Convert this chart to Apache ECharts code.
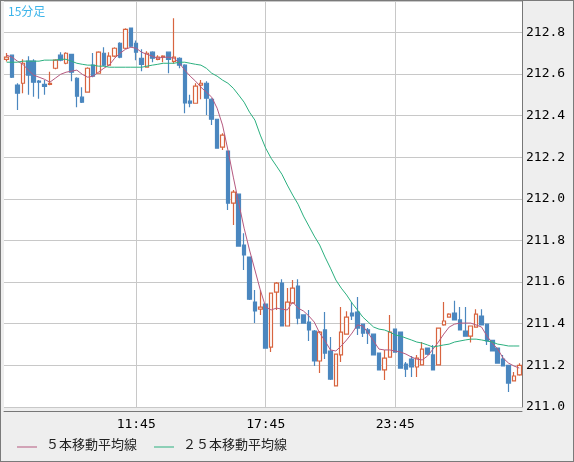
<!DOCTYPE html>
<html>
<head>
<meta charset="utf-8">
<script src="https://cdn.jsdelivr.net/npm/echarts@6/dist/echarts.min.js"></script>
<style>
html, body { margin: 0; padding: 0; background: #eeeeee; }
#chart { width: 572px; height: 460px; border: 1px solid #7a7a7a; }
</style>
</head>
<body>
<div id="chart"></div>
<script>
// 15-minute candles, 05:45 .. 05:30 next day
var opens = [212.67,212.69,212.546,212.555,212.661,212.661,212.565,212.55,212.55,212.627,
  212.69,212.651,212.694,212.579,212.488,212.512,212.642,212.603,212.699,212.642,
  212.685,212.747,212.723,212.82,212.747,212.675,212.632,212.704,212.67,212.68,
  212.704,212.66,212.675,212.642,212.469,212.459,212.546,212.555,212.478,212.382,
  212.248,212.229,211.979,212.022,211.778,211.72,211.504,211.47,211.494,211.288,
  211.552,211.595,211.389,211.499,211.581,211.442,211.408,211.365,211.221,211.37,
  211.269,211.101,211.25,211.35,211.451,211.456,211.398,211.37,211.35,211.259,
  211.178,211.24,211.374,211.36,211.206,211.23,211.192,211.202,211.283,211.25,
  211.202,211.394,211.432,211.451,211.418,211.365,211.34,211.384,211.437,211.398,
  211.32,211.283,211.23,211.2,211.125,211.154];
var closes = [212.68,212.584,212.507,212.651,212.594,212.56,212.56,212.54,212.555,212.666,
  212.666,212.699,212.608,212.493,212.464,212.627,212.589,212.704,212.642,212.685,
  212.723,212.68,212.814,212.733,212.704,212.646,212.699,212.675,212.68,212.685,
  212.67,212.68,212.642,212.46,212.459,212.541,212.555,212.483,212.382,212.243,
  212.306,211.979,212.032,211.773,211.73,211.518,211.461,211.48,211.283,211.547,
  211.595,211.389,211.504,211.571,211.427,211.403,211.37,211.221,211.36,211.259,
  211.134,211.254,211.36,211.432,211.437,211.379,211.355,211.355,211.25,211.178,
  211.235,211.36,211.264,211.187,211.182,211.192,211.235,211.278,211.254,211.178,
  211.379,211.413,211.446,211.418,211.37,211.34,211.389,211.446,211.394,211.317,
  211.269,211.211,211.197,211.115,211.149,211.2];
var lows = [212.66,212.58,212.426,212.507,212.50,212.49,212.48,212.50,212.545,212.622,
  212.661,212.646,212.565,212.44,212.46,212.512,212.584,212.603,212.637,212.64,
  212.68,212.675,212.72,212.728,212.666,212.613,212.63,212.656,212.666,212.656,
  212.603,212.65,212.627,212.411,212.44,212.459,212.478,212.402,212.354,212.243,
  212.234,211.946,211.874,211.773,211.658,211.514,211.403,211.442,211.283,211.264,
  211.466,211.389,211.389,211.499,211.398,211.40,211.317,211.197,211.163,211.23,
  211.13,211.10,211.216,211.35,211.418,211.346,211.336,211.302,211.25,211.178,
  211.13,211.24,211.264,211.187,211.144,211.144,211.144,211.202,211.25,211.178,
  211.202,211.39,211.43,211.418,211.37,211.34,211.31,211.384,211.394,211.298,
  211.269,211.211,211.197,211.072,211.125,211.15];
var highs = [212.70,212.69,212.555,212.67,212.685,212.67,212.57,212.57,212.61,212.67,
  212.704,212.704,212.694,212.584,212.536,212.632,212.70,212.709,212.728,212.704,
  212.728,212.752,212.819,212.82,212.76,212.718,212.709,212.709,212.69,212.69,
  212.704,212.867,212.68,212.646,212.50,212.555,212.57,212.565,212.483,212.382,
  212.315,212.229,212.042,212.022,211.835,211.72,211.562,211.562,211.494,211.547,
  211.60,211.614,211.571,211.61,211.614,211.442,211.466,211.37,211.365,211.456,
  211.336,211.254,211.48,211.46,211.504,211.528,211.398,211.38,211.35,211.259,
  211.274,211.442,211.374,211.36,211.216,211.245,211.25,211.312,211.283,211.298,
  211.379,211.504,211.45,211.51,211.48,211.48,211.389,211.47,211.47,211.398,
  211.32,211.283,211.25,211.2,211.168,211.21];

// moving averages as drawn
var ma5 = [212.690,212.680,212.661,212.646,212.618,212.594,212.584,212.574,212.560,212.579,
  212.598,212.608,212.613,212.618,212.598,212.584,212.589,212.608,212.627,212.642,
  212.675,212.699,212.718,212.728,212.723,212.704,212.694,212.685,212.675,212.680,
  212.680,212.675,212.651,212.618,212.589,212.565,212.536,212.512,212.488,212.435,
  212.354,212.234,212.104,211.979,211.859,211.754,211.658,211.562,211.480,211.466,
  211.475,211.470,211.466,211.504,211.475,211.461,211.437,211.408,211.355,211.317,
  211.274,211.269,211.293,211.322,211.355,211.394,211.389,211.355,211.317,211.278,
  211.274,211.274,211.269,211.264,211.254,211.240,211.230,211.226,211.245,211.278,
  211.312,211.350,211.384,211.398,211.403,211.403,211.403,211.394,211.384,211.341,
  211.307,211.278,211.235,211.211,211.197,211.187];
var ma25 = [212.656,212.656,212.656,212.661,212.661,212.661,212.661,212.666,212.666,212.666,
  212.670,212.670,212.661,212.651,212.646,212.642,212.642,212.637,212.637,212.632,
  212.632,212.632,212.632,212.632,212.632,212.632,212.637,212.642,212.646,212.651,
  212.651,212.651,212.656,212.656,212.651,212.646,212.642,212.627,212.603,212.589,
  212.570,212.555,212.531,212.498,212.464,212.416,212.378,212.306,212.243,212.195,
  212.157,212.118,212.066,212.018,211.974,211.917,211.869,211.821,211.778,211.720,
  211.667,211.610,211.571,211.538,211.499,211.466,211.432,211.408,211.384,211.374,
  211.370,211.360,211.346,211.341,211.331,211.322,211.312,211.307,211.298,211.288,
  211.293,211.298,211.302,211.312,211.317,211.322,211.326,211.326,211.322,211.317,
  211.312,211.302,211.298,211.293,211.293,211.293];

var timeLabels = ['11:45', '17:45', '23:45'];

var times = [];
for (var i = 0; i < opens.length; i++) {
    var m = (5 * 60 + 45 + i * 15) % (24 * 60);
    var hh = Math.floor(m / 60), mm = m % 60;
    times.push(hh + ':' + (mm < 10 ? '0' : '') + mm);
}
var candles = opens.map(function (o, i) {
    return [o, closes[i], Math.min(lows[i], o, closes[i]), Math.max(highs[i], o, closes[i])];
});

var myChart = echarts.init(document.getElementById('chart'));
var gridColor = '#c8c8c8';
var font = 'DejaVu Sans Mono';
var legendFont = '13px "Noto Sans CJK JP"';

myChart.setOption({
    animation: false,
    backgroundColor: '#eeeeee',
    grid: { left: 3, right: 51, top: 0, bottom: 54, show: true, backgroundColor: '#fff', borderWidth: 0 },
    xAxis: {
        type: 'category', data: times, boundaryGap: true, offset: 4,
        axisLine: { lineStyle: { color: '#777', width: 1 } },
        axisTick: { show: false },
        splitLine: { show: false },
        axisLabel: {
            interval: function (idx, v) { return timeLabels.indexOf(v) >= 0; },
            color: '#000', fontFamily: font, fontSize: 13, margin: 7
        }
    },
    yAxis: {
        type: 'value', position: 'right', min: 211, max: 212.95, interval: 0.2,
        axisLine: { show: true, lineStyle: { color: '#777' } },
        axisTick: { show: false },
        splitLine: { lineStyle: { color: gridColor } },
        axisLabel: {
            showMaxLabel: false, color: '#000', fontFamily: font, fontSize: 13, margin: 4,
            formatter: function (v) { return v.toFixed(1); }
        }
    },
    series: [{
        type: 'candlestick', data: candles, barWidth: 4,
        itemStyle: { color: '#fff', color0: '#4b87bf', borderColor: '#d8643f', borderColor0: '#4b87bf', borderWidth: 1.2 },
        markLine: {
            silent: true, symbol: 'none', label: { show: false },
            lineStyle: { color: gridColor, type: 'solid', width: 1 },
            data: timeLabels.map(function (t) { return { xAxis: t }; }),
            z: 0
        },
        z: 3
    }, {
        type: 'line', data: ma5, showSymbol: false,
        lineStyle: { color: '#b5597f', width: 1 }, z: 4
    }, {
        type: 'line', data: ma25, showSymbol: false,
        lineStyle: { color: '#2bb07f', width: 1 }, z: 4
    }],
    graphic: [
        { type: 'text', left: 7, top: 4, style: { text: '15分足', fill: '#3cb4ea', font: '12px "Noto Sans CJK JP"' } },
        { type: 'line', shape: { x1: 16, y1: 446, x2: 36, y2: 446 }, style: { stroke: '#b5597f', lineWidth: 1 } },
        { type: 'text', left: 45, top: 437, style: { text: '５本移動平均線', fill: '#222', font: legendFont } },
        { type: 'line', shape: { x1: 153, y1: 446, x2: 173, y2: 446 }, style: { stroke: '#2bb07f', lineWidth: 1 } },
        { type: 'text', left: 182, top: 437, style: { text: '２５本移動平均線', fill: '#222', font: legendFont } }
    ]
});
</script>
</body>
</html>
